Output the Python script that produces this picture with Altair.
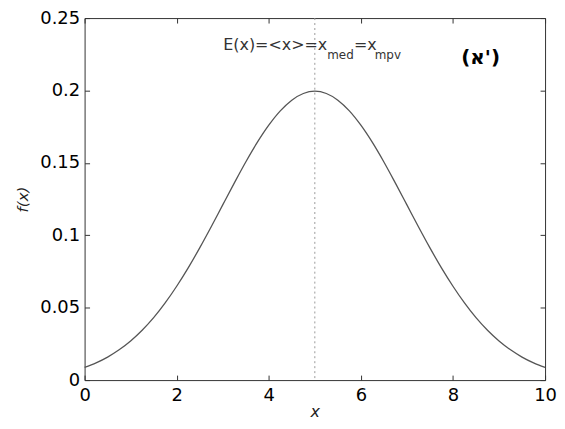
import altair as alt
import pandas as pd

# values
x_vals = [0, 0.25, 0.5, 0.75, 1, 1.25, 1.5, 1.75, 2, 2.25, 2.5, 2.75, 3, 3.25, 3.5, 3.75, 4, 4.25, 4.5, 4.75,
          5, 5.25, 5.5, 5.75, 6, 6.25, 6.5, 6.75, 7, 7.25, 7.5, 7.75, 8, 8.25, 8.5, 8.75, 9, 9.25, 9.5, 9.75, 10]
f_vals = [0.0088, 0.0119, 0.0159, 0.0209, 0.0270, 0.0344, 0.0431, 0.0533, 0.0648, 0.0775, 0.0913, 0.1059,
          0.1210, 0.1360, 0.1506, 0.1641, 0.1760, 0.1859, 0.1933, 0.1979,
          0.1995, 0.1979, 0.1933, 0.1859, 0.1760, 0.1641, 0.1506, 0.1360, 0.1210, 0.1059, 0.0913, 0.0775,
          0.0648, 0.0533, 0.0431, 0.0344, 0.0270, 0.0209, 0.0159, 0.0119, 0.0088]
x_ticks = [0, 2, 4, 6, 8, 10]
y_ticks = [0, 0.05, 0.1, 0.15, 0.2, 0.25]
mean_x = [5]

ann_text = ["E(x)=<x>=x", "med", "=x", "mpv"]
ann_x = [3.011, 5.269, 5.849, 6.301]
ann_y = [0.2280, 0.2218, 0.2280, 0.2218]
ann_size = [16, 12, 16, 12]

tag_text = ["(א')"]
tag_x = [8.6]
tag_y = [0.2225]

W, H = 463, 364
FONT = "DejaVu Sans"

curve = pd.DataFrame({"x": x_vals, "f": f_vals})
mean_df = pd.DataFrame({"m": mean_x})
ann_df = pd.DataFrame({"t": ann_text, "x": ann_x, "y": ann_y, "s": ann_size})
tag_df = pd.DataFrame({"t": tag_text, "x": tag_x, "y": tag_y})

xs = alt.Scale(domain=[0, 10], nice=False, zero=False)
ys = alt.Scale(domain=[0, 0.25], nice=False, zero=False)

x_main = alt.Axis(values=x_ticks, title="x", labelFont=FONT, labelFontSize=18, labelColor="black",
                  ticks=False, domain=False, grid=False, labelPadding=7, labelFlush=False,
                  labelOverlap=False, format="d", titleFont=FONT, titleFontStyle="italic",
                  titleFontWeight="normal", titleFontSize=16, titleColor="#222", titleY=24,
                  titleBaseline="top")
y_main = alt.Axis(values=y_ticks, title="f(x)", labelFont=FONT, labelFontSize=18, labelColor="black",
                  ticks=False, domain=False, grid=False, labelPadding=5, labelOverlap=False,
                  format="~g", titleFont=FONT, titleFontStyle="italic", titleFontWeight="normal",
                  titleFontSize=15, titleColor="#222", titleX=-62, titleY=H / 2, titleAngle=-90,
                  titleAlign="center", titleBaseline="middle")


def tick_axis(orient, values, offset):
    return alt.Axis(orient=orient, offset=offset, values=values, labels=False, domain=False,
                    ticks=True, tickSize=5, tickColor="#333", grid=False, title="")


line = alt.Chart(curve).mark_line(color="#555", strokeWidth=1.3, interpolate="monotone").encode(
    x=alt.X("x:Q", scale=xs, axis=x_main),
    y=alt.Y("f:Q", scale=ys, axis=y_main),
)

ticks_a = alt.Chart(curve).mark_line(opacity=0).encode(
    x=alt.X("x:Q", scale=xs, axis=tick_axis("top", x_ticks, -H)),
    y=alt.Y("f:Q", scale=ys, axis=tick_axis("right", y_ticks, -W)),
)
ticks_b = alt.Chart(curve).mark_line(opacity=0).encode(
    x=alt.X("x:Q", scale=xs, axis=tick_axis("bottom", x_ticks, -H)),
    y=alt.Y("f:Q", scale=ys, axis=tick_axis("left", y_ticks, -W)),
)

rule = alt.Chart(mean_df).mark_rule(color="#999", strokeDash=[2, 3], strokeWidth=1).encode(
    x=alt.X("m:Q", scale=xs, axis=None),
)

ann = alt.Chart(ann_df).mark_text(align="left", baseline="alphabetic", font=FONT, color="#333").encode(
    x=alt.X("x:Q", scale=xs, axis=None),
    y=alt.Y("y:Q", scale=ys, axis=None),
    text="t:N",
    size=alt.Size("s:Q", scale=None, legend=None),
)

tag = alt.Chart(tag_df).mark_text(align="center", baseline="middle", font=FONT, fontSize=20,
                                  fontWeight="bold", color="black").encode(
    x=alt.X("x:Q", scale=xs, axis=None),
    y=alt.Y("y:Q", scale=ys, axis=None),
    text="t:N",
)

chart = alt.layer(line, ticks_a, ticks_b, rule, ann, tag).properties(
    width=W, height=H,
    autosize=alt.AutoSizeParams(type="none"),
    padding={"left": 77, "top": 9, "right": 12, "bottom": 40},
    background="white",
).configure_view(stroke="#333", strokeWidth=1)

chart.save("out.html", embed_options={"renderer": "svg", "actions": False})
